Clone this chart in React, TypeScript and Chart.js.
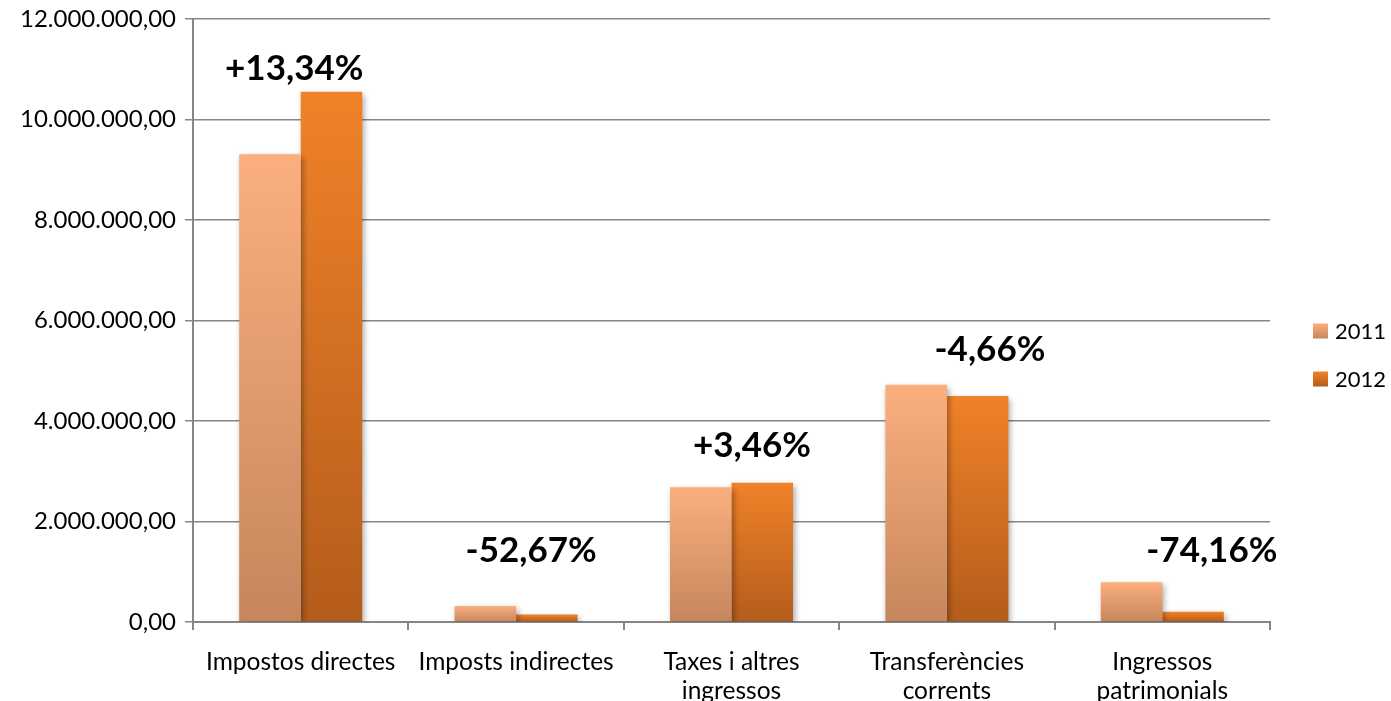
import React, { useEffect, useRef } from "react";
import { Chart, registerables } from "chart.js";

Chart.register(...registerables);

const categories = [
  "Impostos directes",
  "Imposts indirectes",
  ["Taxes i altres", "ingressos"],
  ["Transferències", "corrents"],
  ["Ingressos", "patrimonials"],
];
const series2011 = [9310000, 320000, 2680000, 4720000, 790000];
const series2012 = [10550000, 150000, 2770000, 4500000, 204000];
const changeLabels = ["+13,34%", "-52,67%", "+3,46%", "-4,66%", "-74,16%"];
const labelIndexPos = [-0.03, 1.07, 2.095, 3.2, 4.23];
const labelValues = [11020000, 1410000, 3500000, 5410000, 1410000];
const yTicks = [0, 2000000, 4000000, 6000000, 8000000, 10000000, 12000000];
const seriesNames = ["2011", "2012"];

const FONT = "Lato, 'Open Sans', sans-serif";
const colors = [
  { top: "#FBAF7E", bottom: "#C6865C" },
  { top: "#F08228", bottom: "#B45C1C" },
];

function fmt(v: number) {
  const s = Math.round(v).toString().replace(/\B(?=(\d{3})+(?!\d))/g, ".");
  return s + ",00";
}

function barGradient(c: any, i: number) {
  const chart = c.chart;
  const col = colors[i];
  if (!chart.chartArea || c.type !== "data") return col.top;
  const y = chart.scales.y;
  const top = y.getPixelForValue(c.raw);
  const bot = y.getPixelForValue(0);
  if (!isFinite(top) || !isFinite(bot) || bot - top < 1) return col.top;
  const g = chart.ctx.createLinearGradient(0, top, 0, bot);
  g.addColorStop(0, col.top);
  g.addColorStop(1, col.bottom);
  return g;
}

const shadowPlugin = {
  id: "barShadow",
  beforeDatasetsDraw(chart: any) {
    const ctx = chart.ctx;
    ctx.save();
    ctx.shadowColor = "rgba(0,0,0,0.35)";
    ctx.shadowBlur = 6;
    ctx.shadowOffsetX = 2;
    ctx.shadowOffsetY = 3;
  },
  afterDatasetsDraw(chart: any) {
    chart.ctx.restore();
  },
};

const annotPlugin = {
  id: "annot",
  afterDraw(chart: any) {
    const ctx = chart.ctx;
    const x = chart.scales.x;
    const y = chart.scales.y;
    ctx.save();
    ctx.fillStyle = "#000";
    ctx.font = `bold 35px ${FONT}`;
    ctx.textAlign = "center";
    ctx.textBaseline = "middle";
    changeLabels.forEach((t, i) => {
      ctx.fillText(t, x.getPixelForValue(labelIndexPos[i]), y.getPixelForValue(labelValues[i]));
    });
    // legend
    ctx.font = `22px ${FONT}`;
    ctx.textAlign = "left";
    const lx = 1313;
    const ly = [331, 379];
    seriesNames.forEach((n, i) => {
      const g = ctx.createLinearGradient(0, ly[i] - 7.5, 0, ly[i] + 7.5);
      g.addColorStop(0, colors[i].top);
      g.addColorStop(1, colors[i].bottom);
      ctx.fillStyle = g;
      ctx.fillRect(lx, ly[i] - 7.5, 15, 15);
      ctx.fillStyle = "#000";
      ctx.fillText(n, lx + 22, ly[i] + 1);
    });
    ctx.restore();
  },
};

export default function App() {
  const ref = useRef<HTMLCanvasElement>(null);
  useEffect(() => {
    if (!ref.current) return;
    const chart = new Chart(ref.current, {
      type: "bar",
      data: {
        labels: categories as any,
        datasets: [
          {
            label: seriesNames[0],
            data: series2011,
            backgroundColor: (c: any) => barGradient(c, 0),
            barPercentage: 1,
            categoryPercentage: 0.571,
          },
          {
            label: seriesNames[1],
            data: series2012,
            backgroundColor: (c: any) => barGradient(c, 1),
            barPercentage: 1,
            categoryPercentage: 0.571,
          },
        ],
      },
      options: {
        animation: false,
        responsive: false,
        layout: { padding: { top: 19, right: 121, left: 0, bottom: 0 } },
        plugins: { legend: { display: false }, tooltip: { enabled: false } },
        scales: {
          x: {
            grid: {
              drawOnChartArea: false,
              offset: true,
              color: "#868686",
              tickLength: 8,
              lineWidth: 2,
            },
            border: { color: "#868686", width: 2 },
            ticks: {
              color: "#000",
              font: { family: FONT, size: 24.5, lineHeight: 1.2 },
              padding: 17,
              maxRotation: 0,
              autoSkip: false,
            },
            afterFit(s: any) {
              s.height = 79;
              s.paddingLeft = 0;
              s.paddingRight = 0;
            },
          },
          y: {
            min: 0,
            max: 12000000,
            afterBuildTicks(s: any) {
              s.ticks = yTicks.map((v) => ({ value: v }));
            },
            grid: { color: "#868686", tickLength: 8, lineWidth: 1.5 },
            border: { color: "#868686", width: 2 },
            ticks: {
              color: "#000",
              font: { family: FONT, size: 24 },
              padding: 9,
              callback: (v: any) => fmt(Number(v)),
            },
            afterFit(s: any) {
              s.width = 193;
              s.paddingTop = 0;
              s.paddingBottom = 0;
            },
          },
        },
      },
      plugins: [shadowPlugin, annotPlugin],
    });
    return () => chart.destroy();
  }, []);
  return (
    <div style={{ position: "fixed", left: 0, top: 0, width: 1391, height: 701, background: "#fff" }}>
      <canvas ref={ref} width={1391} height={701} style={{ display: "block" }} />
    </div>
  );
}
